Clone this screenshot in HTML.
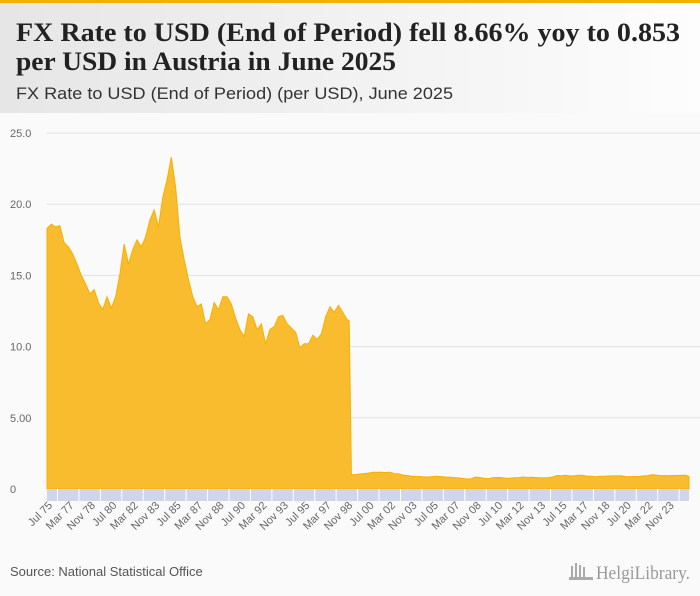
<!DOCTYPE html>
<html><head><meta charset="utf-8"><style>
html,body{margin:0;padding:0;background:#fafafa;}
svg{display:block;font-family:"Liberation Sans",sans-serif;}
</style></head><body>
<svg id="chart" width="700" height="596" viewBox="0 0 700 596" xmlns="http://www.w3.org/2000/svg">
<defs><linearGradient id="hg" x1="0" x2="1" y1="0" y2="0"><stop offset="0" stop-color="#e6e6e6"/><stop offset="1" stop-color="#fdfdfd"/></linearGradient></defs>
<rect x="0" y="0" width="700" height="596" fill="#fafafa"/>
<rect x="0" y="3" width="700" height="110" fill="url(#hg)"/>
<rect x="0" y="0" width="700" height="3" fill="#f5b000"/>
<text x="16" y="41" font-family="Liberation Serif, serif" font-weight="bold" font-size="26" fill="#222" textLength="664" lengthAdjust="spacingAndGlyphs">FX Rate to USD (End of Period) fell 8.66% yoy to 0.853</text>
<text x="16" y="70" font-family="Liberation Serif, serif" font-weight="bold" font-size="26" fill="#222" textLength="380" lengthAdjust="spacingAndGlyphs">per USD in Austria in June 2025</text>
<text x="16" y="99" font-size="17" fill="#333" textLength="437" lengthAdjust="spacingAndGlyphs">FX Rate to USD (End of Period) (per USD), June 2025</text>
<g id="grid"></g>
<g id="area"></g>
<g id="xaxis"></g>
<text x="10" y="576" font-size="13" fill="#555">Source: National Statistical Office</text>
<g>
<rect x="571" y="566" width="2" height="12" fill="#aaa"/><rect x="575" y="563" width="2" height="15" fill="#aaa"/><rect x="579" y="565" width="2" height="13" fill="#aaa"/><rect x="583" y="567" width="2" height="11" fill="#aaa"/><rect x="569" y="577" width="24" height="3" fill="#aaa"/>
<text x="596" y="579" font-family="Liberation Serif, serif" font-size="19" fill="#999" textLength="94" lengthAdjust="spacingAndGlyphs">HelgiLibrary.</text>
</g>
</svg>
<script>
const yTicks = [0, 5, 10, 15, 20, 25];
const yTickLabels = ["0", "5.00", "10.0", "15.0", "20.0", "25.0"];
const xTickLabels = ["Jul 75","Mar 77","Nov 78","Jul 80","Mar 82","Nov 83","Jul 85","Mar 87","Nov 88","Jul 90","Mar 92","Nov 93","Jul 95","Mar 97","Nov 98","Jul 00","Mar 02","Nov 03","Jul 05","Mar 07","Nov 08","Jul 10","Mar 12","Nov 13","Jul 15","Mar 17","Nov 18","Jul 20","Mar 22","Nov 23"];
// months since Jul 1975
const months = [0,4,8,12,16,20,24,28,32,36,40,44,48,52,56,60,64,68,72,76,80,84,88,92,96,100,104,108,112,116,120,124,128,132,136,140,144,148,152,156,160,164,168,172,176,180,184,188,192,196,200,204,208,212,216,220,224,228,232,236,240,244,248,252,256,260,264,268,272,276,280,282,
284,288,292,296,300,304,308,312,316,320,324,328,332,336,340,344,348,352,356,360,364,368,372,376,380,384,388,392,396,400,404,408,412,416,420,424,428,432,436,440,444,448,452,456,460,464,468,472,476,480,484,488,492,496,500,504,508,512,516,520,524,528,532,536,540,544,548,552,556,560,564,568,572,576,580,584,588,592,596,599];
const values = [18.3,18.6,18.4,18.5,17.3,17.0,16.5,15.8,15.0,14.4,13.7,14.0,13.1,12.6,13.5,12.7,13.5,15.1,17.2,15.8,16.8,17.5,17.0,17.7,18.9,19.6,18.4,20.5,21.7,23.3,21.2,17.7,16.1,14.7,13.5,12.8,13.0,11.6,11.9,13.1,12.6,13.5,13.5,13.0,12.0,11.2,10.7,12.3,12.1,11.2,11.6,10.2,11.2,11.4,12.1,12.2,11.6,11.3,11.0,9.9,10.2,10.2,10.8,10.5,10.9,12.1,12.8,12.4,12.9,12.4,11.9,11.8,
1.00,1.02,1.05,1.09,1.12,1.18,1.17,1.18,1.16,1.17,1.08,1.06,0.98,0.95,0.90,0.88,0.88,0.84,0.84,0.88,0.90,0.87,0.84,0.82,0.80,0.78,0.74,0.70,0.72,0.84,0.80,0.76,0.73,0.79,0.81,0.80,0.76,0.75,0.79,0.80,0.84,0.81,0.82,0.81,0.79,0.78,0.80,0.84,0.95,0.93,0.96,0.91,0.93,0.96,0.96,0.90,0.90,0.86,0.89,0.90,0.91,0.92,0.92,0.92,0.88,0.87,0.88,0.88,0.91,0.93,1.00,0.98,0.95,0.94,0.94,0.95,0.95,0.97,0.96,0.88];
const X0 = 47, X1 = 689, Y0 = 489, Y1 = 133, NM = 599;
const xs = m => X0 + m * (X1 - X0) / NM;
const ys = v => Y0 - v * (Y0 - Y1) / 25;
const NS = "http://www.w3.org/2000/svg";
const grid = document.getElementById('grid');
yTicks.forEach((t, i) => {
  if (t > 0) {
    const l = document.createElementNS(NS, 'line');
    l.setAttribute('x1', X0); l.setAttribute('x2', 700); l.setAttribute('y1', ys(t)); l.setAttribute('y2', ys(t));
    l.setAttribute('stroke', '#e2e2e2'); l.setAttribute('stroke-width', '1');
    
    
    grid.appendChild(l);
  }
  const tx = document.createElementNS(NS, 'text');
  tx.setAttribute('x', 10); tx.setAttribute('y', ys(t) + 4);
  tx.setAttribute('font-size', '11'); tx.setAttribute('fill', '#666');
  tx.textContent = yTickLabels[i];
  
  
  grid.appendChild(tx);
});
let d = 'M' + xs(months[0]) + ',' + Y0;
months.forEach((m, i) => { d += ' L' + xs(m).toFixed(1) + ',' + ys(values[i]).toFixed(1); });
d += ' L' + xs(months[months.length - 1]) + ',' + Y0 + ' Z';
const p = document.createElementNS(NS, 'path');
p.setAttribute('d', d); p.setAttribute('fill', '#f9bc2f'); p.setAttribute('stroke', '#f5b000'); p.setAttribute('stroke-width', '1');


document.getElementById('area').appendChild(p);
const xa = document.getElementById('xaxis');
const band = document.createElementNS(NS, 'rect');
band.setAttribute('x', X0); band.setAttribute('y', Y0); band.setAttribute('width', X1 - X0); band.setAttribute('height', 12); band.setAttribute('fill', '#cdd6ea');


xa.appendChild(band);
xTickLabels.forEach((lab, i) => {
  const x = xs(i * 20);
  const s = document.createElementNS(NS, 'rect');
  s.setAttribute('x', x + 10); s.setAttribute('y', Y0); s.setAttribute('width', 1); s.setAttribute('height', 12); s.setAttribute('fill', '#fff');
  
  
  xa.appendChild(s);
  const t = document.createElementNS(NS, 'text');
  t.setAttribute('transform', 'translate(' + (x + 6) + ',' + (Y0 + 17) + ') rotate(-45)');
  t.setAttribute('text-anchor', 'end'); t.setAttribute('font-size', '11'); t.setAttribute('fill', '#666');
  t.textContent = lab;
  
  
  xa.appendChild(t);
});
</script>
</body></html>
